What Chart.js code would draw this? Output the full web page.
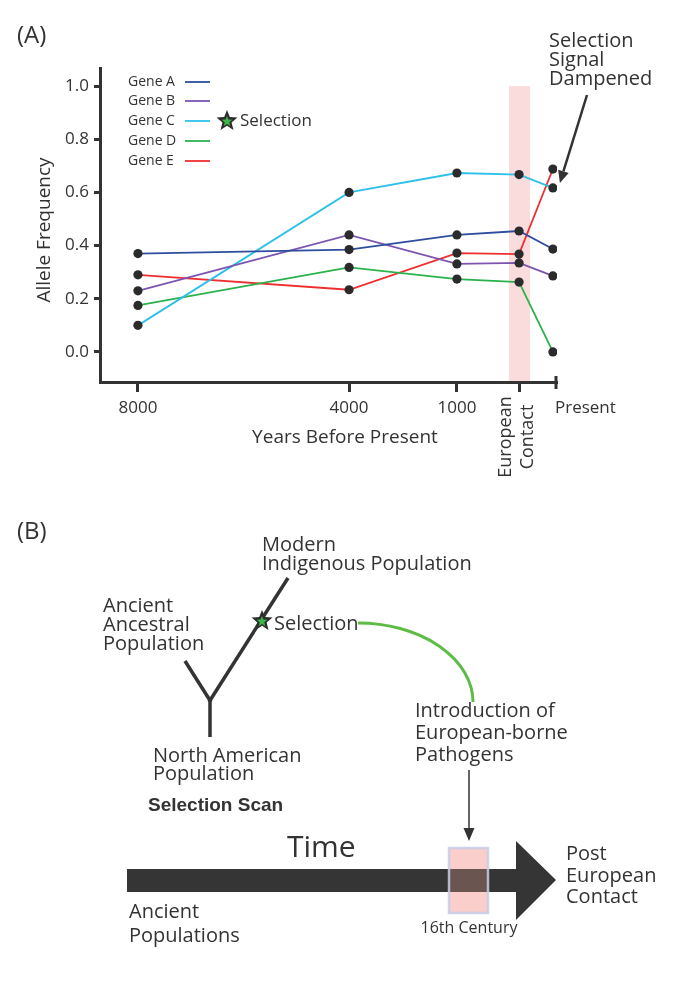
<!DOCTYPE html>
<html>
<head>
<meta charset="UTF-8">
<title>Allele frequency and selection scan</title>
<script src="https://cdn.jsdelivr.net/npm/chart.js"></script>
<style>
body { margin:0; background:#fff; }
#wrap { position:relative; width:680px; height:999px; }
#chart { position:absolute; left:0; top:0; }
#diagram { position:absolute; left:0; top:0; pointer-events:none; }
#diagram text { font-family:'Open Sans', sans-serif; fill:#333; }
</style>
</head>
<body>
<div id="wrap">
<canvas id="chart" width="680" height="480"></canvas>
<svg id="diagram" width="680" height="999" xmlns="http://www.w3.org/2000/svg">
  <text x="17" y="539" font-size="24">(B)</text>

  <!-- population tree -->
  <g stroke="#333" stroke-width="3.5" fill="none">
    <line x1="185" y1="661" x2="211" y2="702"/>
    <line x1="288" y1="578" x2="209" y2="702"/>
    <line x1="210" y1="699" x2="210" y2="737"/>
  </g>
  <g id="treeStar"></g>
  <text x="262" y="551" font-size="20">Modern</text>
  <text x="262" y="570" font-size="20">Indigenous Population</text>
  <text x="103" y="612" font-size="20">Ancient</text>
  <text x="103" y="631" font-size="20">Ancestral</text>
  <text x="103" y="650" font-size="20">Population</text>
  <text x="274" y="630" font-size="20">Selection</text>
  <path d="M358,623 A115,79 0 0 1 473,702" stroke="#5dbb46" stroke-width="3" fill="none"/>
  <text x="415" y="717" font-size="20">Introduction of</text>
  <text x="415" y="739" font-size="20">European-borne</text>
  <text x="415" y="761" font-size="20">Pathogens</text>
  <line x1="469" y1="770" x2="469" y2="830" stroke="#333" stroke-width="1.5"/>
  <polygon points="463.5,828 474.5,828 469,841" fill="#333"/>
  <text x="153" y="762" font-size="20">North American</text>
  <text x="153" y="780" font-size="20">Population</text>
  <text x="148" y="811" font-size="19" font-weight="bold" style="font-family:'Liberation Sans',Arial,sans-serif">Selection Scan</text>

  <!-- time arrow -->
  <text x="287" y="857" font-size="30">Time</text>
  <rect x="449" y="848" width="39" height="65" fill="#f9cecb"/>
  <polygon points="127,869 516,869 516,841 556,880 516,920 516,892 127,892" fill="#353535"/>
  <rect x="449" y="869" width="39" height="23" fill="#6b5550"/>
  <rect x="449" y="848" width="39" height="65" fill="none" stroke="#c8cde8" stroke-width="2.5" stroke-opacity="0.85"/>
  <text x="129" y="918" font-size="20">Ancient</text>
  <text x="129" y="942" font-size="20">Populations</text>
  <text x="469" y="933" font-size="16" text-anchor="middle">16th Century</text>
  <text x="566" y="860" font-size="20">Post</text>
  <text x="566" y="882" font-size="20">European</text>
  <text x="566" y="903" font-size="20">Contact</text>
</svg>
</div>

<script>
    // time points (years before present) and where each sits along the x axis (0..100)
    var timeLabels = ['8000', '4000', '1000', 'European Contact', 'Present'];
    var timePos = [8.3, 54.5, 78.1, 91.7, 99.1];
    var axisEnd = 100;

    // allele frequency per gene at each time point
    var geneA = [0.37, 0.385, 0.44, 0.455, 0.387];
    var geneB = [0.23, 0.44, 0.331, 0.335, 0.286];
    var geneC = [0.10, 0.60, 0.673, 0.667, 0.617];
    var geneD = [0.175, 0.318, 0.274, 0.263, 0.0];
    var geneE = [0.29, 0.234, 0.372, 0.368, 0.688];

    var geneNames = ['Gene A', 'Gene B', 'Gene C', 'Gene D', 'Gene E'];
    var geneColors = ['#2e4d9e', '#7d55b0', '#2cc0ea', '#2bb24c', '#ee2e2f'];

    var yTicks = [0.0, 0.2, 0.4, 0.6, 0.8, 1.0];
    var contactBand = [89.5, 94.1];   // shaded "European Contact" window on the x axis
    var bandTop = 1.0;

    var FONT = "'Open Sans', sans-serif";
    var INK = '#333';

    var series = function(name, vals, color) {
        return {
            label: name,
            data: timePos.map(function(x, i) { return {x: x, y: vals[i]}; }),
            borderColor: color,
            borderWidth: 1.8,
            pointRadius: 4.6,
            pointHoverRadius: 4.6,
            pointBackgroundColor: '#2b2b2b',
            pointBorderWidth: 0,
            fill: false,
            tension: 0
        };
    };

    var starPath = function(ctx, cx, cy, R, r) {
        ctx.beginPath();
        for (var i = 0; i < 10; i++) {
            var rad = i % 2 ? r : R;
            var a = -Math.PI / 2 + i * Math.PI / 5;
            ctx.lineTo(cx + rad * Math.cos(a), cy + rad * Math.sin(a));
        }
        ctx.closePath();
    };

    var drawStar = function(ctx, cx, cy) {
        starPath(ctx, cx, cy, 11, 4.8);
        ctx.fillStyle = '#2d2d2d';
        ctx.fill();
        starPath(ctx, cx, cy + 0.5, 5.5, 2.4);
        ctx.fillStyle = '#3db54a';
        ctx.fill();
    };

    var annotate = {
        id: 'annotate',
        beforeDatasetsDraw: function(chart) {
            var ctx = chart.ctx, x = chart.scales.x, y = chart.scales.y;
            var x0 = x.getPixelForValue(contactBand[0]), x1 = x.getPixelForValue(contactBand[1]);
            var top = y.getPixelForValue(bandTop);
            ctx.save();
            ctx.fillStyle = '#fbdcdc';
            ctx.fillRect(x0, top, x1 - x0, chart.chartArea.bottom - top - 1);
            ctx.restore();
        },
        afterDraw: function(chart) {
            var ctx = chart.ctx, x = chart.scales.x, y = chart.scales.y;
            var area = chart.chartArea;
            ctx.save();
            ctx.fillStyle = INK;
            ctx.strokeStyle = INK;

            // panel letter
            ctx.font = '24px ' + FONT;
            ctx.textBaseline = 'alphabetic';
            ctx.fillText('(A)', 17, 43);

            // legend
            ctx.font = '14px ' + FONT;
            ctx.textBaseline = 'middle';
            var rows = [82, 101, 121, 141, 161];
            for (var i = 0; i < geneNames.length; i++) {
                ctx.fillStyle = INK;
                ctx.fillText(geneNames[i], 128, rows[i]);
                ctx.strokeStyle = geneColors[i];
                ctx.lineWidth = 1.8;
                ctx.beginPath();
                ctx.moveTo(185, rows[i]);
                ctx.lineTo(210, rows[i]);
                ctx.stroke();
            }
            drawStar(ctx, 227, 121);
            ctx.fillStyle = INK;
            ctx.font = '17px ' + FONT;
            ctx.fillText('Selection', 240, 121);

            // end cap of the x axis + Present label
            var xe = x.getPixelForValue(axisEnd);
            ctx.strokeStyle = INK;
            ctx.lineWidth = 3;
            ctx.beginPath();
            ctx.moveTo(xe - 1, area.bottom - 6);
            ctx.lineTo(xe - 1, area.bottom + 7);
            ctx.stroke();
            ctx.font = '17px ' + FONT;
            ctx.fillText('Present', xe - 2, 408);

            // rotated European Contact label under its tick
            var xc = x.getPixelForValue(timePos[3]);
            ctx.save();
            ctx.translate(xc, 437);
            ctx.rotate(-Math.PI / 2);
            ctx.textAlign = 'center';
            ctx.font = '18px ' + FONT;
            ctx.fillText('European', 0, -13);
            ctx.fillText('Contact', 0, 9);
            ctx.restore();

            // axis titles
            ctx.textAlign = 'center';
            ctx.font = '19px ' + FONT;
            ctx.fillText('Years Before Present', 345, 438);
            ctx.save();
            ctx.translate(45, 230);
            ctx.rotate(-Math.PI / 2);
            ctx.font = '19px ' + FONT;
            ctx.fillText('Allele Frequency', 0, 0);
            ctx.restore();

            // call-out for the dampened signal, pointing at Gene C today
            ctx.textAlign = 'left';
            ctx.textBaseline = 'alphabetic';
            ctx.font = '20px ' + FONT;
            ctx.fillText('Selection', 549, 47);
            ctx.fillText('Signal', 549, 66);
            ctx.fillText('Dampened', 549, 85);

            var tx = x.getPixelForValue(timePos[4]) + 7, ty = y.getPixelForValue(geneC[4]) - 5;
            var sx = 587, sy = 95;
            var dx = tx - sx, dy = ty - sy, len = Math.sqrt(dx * dx + dy * dy);
            var ux = dx / len, uy = dy / len;
            var bx = tx - 12 * ux, by = ty - 12 * uy;
            ctx.lineWidth = 2.5;
            ctx.beginPath();
            ctx.moveTo(sx, sy);
            ctx.lineTo(bx, by);
            ctx.stroke();
            ctx.beginPath();
            ctx.moveTo(tx, ty);
            ctx.lineTo(bx + 5.5 * uy, by - 5.5 * ux);
            ctx.lineTo(bx - 5.5 * uy, by + 5.5 * ux);
            ctx.closePath();
            ctx.fill();
            ctx.restore();
        }
    };

    Chart.defaults.font.family = FONT;
    Chart.defaults.color = INK;

    var chart = new Chart(document.getElementById('chart').getContext('2d'), {
        type: 'line',
        data: {
            datasets: [
                series(geneNames[0], geneA, geneColors[0]),
                series(geneNames[1], geneB, geneColors[1]),
                series(geneNames[2], geneC, geneColors[2]),
                series(geneNames[3], geneD, geneColors[3]),
                series(geneNames[4], geneE, geneColors[4])
            ]
        },
        options: {
            responsive: false,
            animation: false,
            layout: { padding: { top: 68, right: 123, left: 0, bottom: 0 } },
            plugins: { legend: { display: false }, tooltip: { enabled: false } },
            scales: {
                x: {
                    type: 'linear',
                    min: 0,
                    max: axisEnd,
                    afterBuildTicks: function(s) { s.ticks = timePos.slice(0, 4).map(function(v) { return {value: v}; }); },
                    afterFit: function(s) { s.height = 98; },
                    border: { color: INK, width: 3 },
                    grid: { drawOnChartArea: false, tickLength: 10, tickWidth: 3, tickColor: INK },
                    ticks: {
                        autoSkip: false, maxRotation: 0, padding: 6, color: INK, font: { size: 17 },
                        callback: function(v, i) { return i < 3 ? timeLabels[i] : ''; }
                    }
                },
                y: {
                    min: -0.113,
                    max: 1.068,
                    afterBuildTicks: function(s) { s.ticks = yTicks.map(function(v) { return {value: v}; }); },
                    afterFit: function(s) { s.width = 100; },
                    border: { color: INK, width: 3 },
                    grid: { drawOnChartArea: false, tickLength: 6, tickWidth: 3, tickColor: INK },
                    ticks: { padding: 5, color: INK, font: { size: 17 }, callback: function(v) { return v.toFixed(1); } }
                }
            }
        },
        plugins: [annotate]
    });

    // star marking the selection event on the tree
    var makeStar = function(cx, cy, R, r) {
        var pts = [];
        for (var i = 0; i < 10; i++) {
            var rad = i % 2 ? r : R, a = -Math.PI / 2 + i * Math.PI / 5;
            pts.push((cx + rad * Math.cos(a)).toFixed(1) + ',' + (cy + rad * Math.sin(a)).toFixed(1));
        }
        return pts.join(' ');
    };
    document.getElementById('treeStar').innerHTML =
        '<polygon points="' + makeStar(262, 621, 11, 4.8) + '" fill="#2d2d2d"/>' +
        '<polygon points="' + makeStar(262, 621.5, 5.5, 2.4) + '" fill="#3db54a"/>';
</script>
</body>
</html>
